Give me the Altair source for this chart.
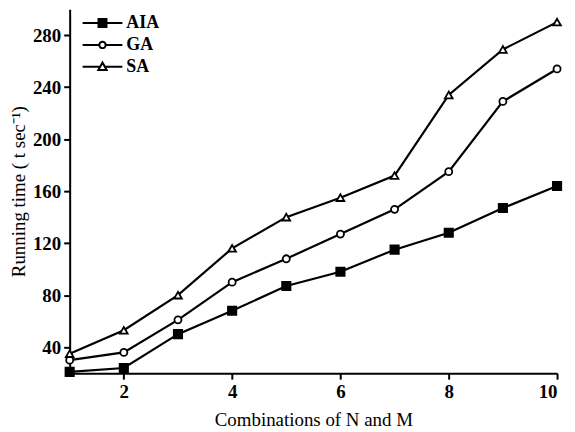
import altair as alt
import pandas as pd

# ---- data ----
x_vals = [1, 2, 3, 4, 5, 6, 7, 8, 9, 10]
methods = ["AIA", "GA", "SA"]
aia = [21, 24, 50, 68, 87, 98, 115, 128, 147, 164]
ga = [30, 36, 61, 90, 108, 127, 146, 175, 229, 254]
sa = [35, 53, 80, 116, 140, 155, 172, 234, 269, 290]
x_ticks = [2, 4, 6, 8, 10]
y_ticks = [40, 80, 120, 160, 200, 240, 280]

rows = []
for m, vals in zip(methods, [aia, ga, sa]):
    for xv, yv in zip(x_vals, vals):
        rows.append({"n": xv, "time": yv, "Method": m})
df = pd.DataFrame(rows)

FONT = "Liberation Serif"

xenc = alt.X("n:Q", scale=alt.Scale(domain=[1, 10], nice=False, zero=False),
             axis=alt.Axis(values=x_ticks, title="Combinations of N and M",
                           labelPadding=3, titlePadding=10))
yenc = alt.Y("time:Q", scale=alt.Scale(domain=[20, 300], nice=False, zero=False),
             axis=alt.Axis(values=y_ticks, title="Running time ( t sec\u207b\u00b9)",
                           labelPadding=3, titlePadding=4))

base = alt.Chart(df).encode(x=xenc, y=yenc)

lines = base.mark_line(color="black", strokeWidth=2.2).encode(detail="Method:N")

styles = {
    "AIA": ("square", "black", 70),
    "GA": ("circle", "white", 50),
    "SA": ("triangle-up", "white", 60),
}
point_layers = []
for m in methods:
    shp, fil, sz = styles[m]
    point_layers.append(
        base.mark_point(shape=shp, filled=True, fill=fil, stroke="black",
                        strokeWidth=1.8, size=sz, opacity=1)
        .transform_filter(alt.datum.Method == m)
    )

# legend symbols: line with marker (unit coordinates, scaled by sqrt(size)/2)
leg_paths = [
    "M-1,0H1M-0.2,-0.2H0.2V0.2H-0.2Z",
    "M-1,0H-0.16M0.16,0H1M0.16,0A0.16,0.16 0 1 1 -0.16,0A0.16,0.16 0 1 1 0.16,0",
    "M-1,0H-0.13M0.13,0H1M0,-0.22L0.21,0.16L-0.21,0.16Z",
]
leg = alt.Legend(title=None, orient="none", legendX=12, legendY=6, padding=0,
                 symbolSize=1600, clipHeight=16, rowPadding=4, labelOffset=3,
                 labelFont=FONT, labelFontSize=18, labelFontWeight="bold",
                 labelColor="black", symbolStrokeWidth=2, symbolOpacity=1)
legend_layer = (
    alt.Chart(df).mark_point(filled=True, stroke="black", strokeWidth=2, opacity=1)
    .encode(
        x=xenc, y=yenc,
        shape=alt.Shape("Method:N", scale=alt.Scale(domain=methods, range=leg_paths), legend=leg),
        fill=alt.Fill("Method:N", scale=alt.Scale(domain=methods, range=["black", "white", "white"]), legend=leg),
    )
    .transform_filter("false")
)

chart = (
    alt.layer(lines, *point_layers, legend_layer)
    .properties(width=490, height=366,
                autosize=alt.AutoSizeParams(type="none"),
                padding={"left": 62, "top": 0, "right": 10, "bottom": 58})
    .configure_view(stroke=None)
    .configure_axis(grid=False, labelFont=FONT, labelFontSize=19, labelFontWeight="bold",
                    labelColor="black", titleFont=FONT, titleFontSize=19,
                    titleFontWeight="normal", titleColor="black",
                    domainColor="black", domainWidth=2, tickColor="black",
                    tickWidth=2, tickSize=6)
)

chart.save("out.html", embed_options={"renderer": "svg", "actions": False})
